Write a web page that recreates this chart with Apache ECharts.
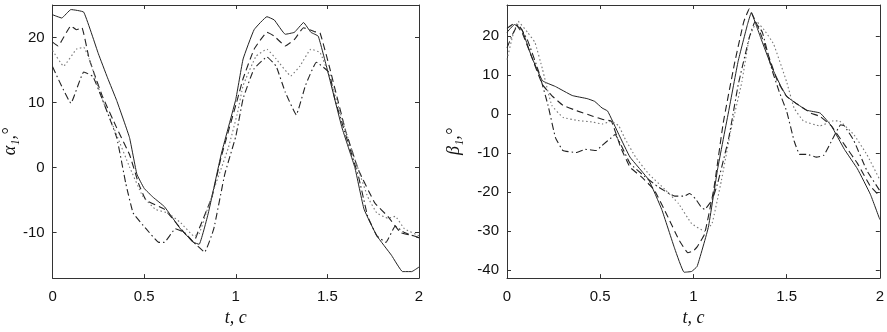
<!DOCTYPE html>
<html>
<head>
<meta charset="utf-8">
<script src="https://cdn.jsdelivr.net/npm/echarts@6/dist/echarts.min.js"></script>
<style>html,body{margin:0;padding:0;background:#fff}#c{width:887px;height:332px}</style>
</head>
<body>
<div id="c"></div>
<script>
// ---- data: left panel (alpha_1) ----
const xTicks = [0, 0.5, 1, 1.5, 2];
const alphaTicks = [-10, 0, 10, 20];
const betaTicks = [-40, -30, -20, -10, 0, 10, 20];

const aSolidT = [0, 0.05, 0.1, 0.17, 0.25, 0.3, 0.35, 0.42, 0.46, 0.5, 0.55, 0.61, 0.7, 0.77, 0.8, 0.85, 0.92, 1.0, 1.04, 1.1, 1.17, 1.21, 1.27, 1.32, 1.37, 1.41, 1.45, 1.5, 1.58, 1.65, 1.7, 1.77, 1.85, 1.91, 1.96, 2.0];
const aSolidV = [23.5, 23, 24.3, 23.9, 17.5, 13.8, 10.3, 4.6, -1, -3.2, -4.6, -6, -9.5, -11.5, -11.8, -7, 2, 10.5, 16.7, 21.2, 23.2, 22.7, 20.5, 20.8, 22.3, 20.8, 20.2, 15, 6.1, 0, -6.4, -10.5, -13.5, -16, -16, -15.3];

const aDashT = [0, 0.03, 0.1, 0.13, 0.16, 0.2, 0.27, 0.35, 0.42, 0.47, 0.51, 0.61, 0.7, 0.77, 0.8, 0.87, 0.92, 1.01, 1.04, 1.1, 1.17, 1.21, 1.27, 1.32, 1.37, 1.43, 1.46, 1.51, 1.6, 1.67, 1.76, 1.83, 1.9, 1.97, 2.0];
const aDashV = [19.3, 18.7, 21.8, 21.2, 21.5, 16.7, 11.1, 6.1, 2, -2.5, -5, -6.4, -9.4, -11.5, -9.4, -4.5, 1.6, 10.6, 13.7, 18.2, 20.8, 20.2, 18.7, 19.7, 21.5, 20.9, 20.7, 15.6, 5.6, -0.4, -5.5, -7.5, -10, -10.5, -10.8];

const aDotT = [0, 0.06, 0.13, 0.17, 0.2, 0.27, 0.35, 0.42, 0.49, 0.56, 0.63, 0.7, 0.77, 0.8, 0.88, 0.96, 1.01, 1.04, 1.11, 1.17, 1.22, 1.3, 1.35, 1.41, 1.46, 1.51, 1.6, 1.67, 1.72, 1.77, 1.83, 1.87, 1.92, 2.0];
const aDotV = [18, 15.6, 18.2, 18.5, 16.7, 10.6, 5, 0.1, -4.3, -6.4, -7, -8.5, -10.5, -10.2, -3.4, 3.1, 8.5, 12.6, 17.1, 18.2, 16.7, 14.1, 15.6, 18.2, 17.7, 14.1, 5.6, -0.4, -4.5, -7, -7.8, -7.5, -9.4, -10.5];

const aDashDotT = [0, 0.1, 0.17, 0.22, 0.27, 0.35, 0.4, 0.44, 0.51, 0.58, 0.61, 0.67, 0.72, 0.77, 0.83, 0.88, 0.94, 1.0, 1.04, 1.1, 1.17, 1.22, 1.27, 1.33, 1.38, 1.44, 1.51, 1.54, 1.6, 1.67, 1.72, 1.77, 1.82, 1.87, 1.92, 2.0];
const aDashDotV = [15.5, 9.9, 14.7, 14, 10.6, 4.6, -2.5, -7, -9.4, -11.5, -11.5, -9.4, -10, -11.5, -13, -9.4, -1, 4.8, 10.6, 15.2, 17, 15.6, 11.6, 8.1, 12.6, 16.2, 14.6, 10.6, 5, -1.4, -7.5, -10.5, -11.5, -9, -10, -10.8];

// ---- data: right panel (beta_1) ----
const bSolidT = [0, 0.04, 0.08, 0.13, 0.19, 0.26, 0.35, 0.43, 0.47, 0.51, 0.54, 0.6, 0.66, 0.76, 0.83, 0.9, 0.95, 0.99, 1.02, 1.08, 1.13, 1.19, 1.24, 1.29, 1.31, 1.36, 1.42, 1.47, 1.5, 1.55, 1.61, 1.68, 1.74, 1.81, 1.88, 1.95, 2.0];
const bSolidV = [21, 23, 21.7, 15, 8.6, 7.1, 4.8, 4, 3.3, 1.6, 0.8, -5.2, -11, -16.8, -24.4, -34.5, -40.5, -40.3, -39, -29, -14, 1, 13.6, 23, 26, 19.7, 12.1, 7.1, 4.6, 2.8, 1, 0.3, -3, -9, -14, -20.6, -27];

const bDashT = [0, 0.04, 0.08, 0.13, 0.19, 0.24, 0.3, 0.38, 0.46, 0.51, 0.56, 0.61, 0.66, 0.72, 0.79, 0.86, 0.92, 0.97, 1.0, 1.02, 1.06, 1.11, 1.16, 1.22, 1.27, 1.3, 1.35, 1.4, 1.45, 1.5, 1.55, 1.63, 1.68, 1.74, 1.81, 1.88, 1.95, 2.0];
const bDashV = [22, 23.3, 21, 15, 7.6, 4.8, 2.3, 0.8, -0.5, -1.3, -1.8, -8.5, -13.6, -16, -19.4, -26, -32, -35.5, -35, -34, -30.7, -19, -2.2, 12.9, 23.7, 27, 22, 15.4, 8.6, 4.6, 2.8, 0.3, -0.6, -3, -7.8, -12.6, -18.5, -21];

const bDotT = [0, 0.03, 0.06, 0.11, 0.15, 0.19, 0.24, 0.3, 0.38, 0.46, 0.51, 0.56, 0.6, 0.63, 0.69, 0.76, 0.85, 0.92, 0.99, 1.06, 1.1, 1.15, 1.2, 1.26, 1.3, 1.34, 1.38, 1.43, 1.5, 1.54, 1.59, 1.68, 1.75, 1.78, 1.86, 1.93, 2.0];
const bDotV = [14, 20, 23.8, 21, 18.4, 11.6, 2.3, -0.8, -1.6, -2, -2.5, -1.8, -3, -6, -11, -15.3, -19.4, -22.9, -28, -30, -28, -17, -4.3, 8.3, 19.7, 23.7, 21.6, 18, 8.3, 1.6, -1.7, -3, -1.7, -1.7, -5.2, -10.3, -16.8];

const bDashDotT = [0, 0.03, 0.06, 0.11, 0.17, 0.22, 0.26, 0.3, 0.37, 0.42, 0.48, 0.51, 0.56, 0.58, 0.61, 0.66, 0.74, 0.81, 0.9, 0.95, 0.98, 1.01, 1.04, 1.06, 1.1, 1.13, 1.19, 1.24, 1.3, 1.33, 1.37, 1.42, 1.46, 1.5, 1.54, 1.57, 1.61, 1.66, 1.7, 1.75, 1.79, 1.81, 1.86, 1.93, 2.0];
const bDashDotV = [17, 20.5, 23, 19, 10.9, 2.3, -6, -9.3, -9.8, -9, -9.3, -8, -6, -5.2, -7.7, -12.6, -16, -18.6, -21, -21, -20.3, -21.6, -23.7, -24.4, -22, -17.7, -6, 7.5, 19.7, 23.7, 21, 11.6, 5.8, 0.8, -6.8, -10.3, -10.3, -11, -10.5, -6, -2.7, -3, -6.7, -14.4, -19.6];

// ---- build ----
const pairs = (t, v) => t.map((x, i) => [x, v[i]]);
const FRAME = '#333';
const LABEL_FONT = {fontFamily: 'Liberation Sans, Arial, sans-serif', fontSize: 15, color: '#111'};
const NAME_FONT = {fontFamily: 'Liberation Serif, DejaVu Serif, serif', fontStyle: 'italic', fontSize: 18, color: '#111'};

function xAxes(grid) {
  const base = {
    type: 'value', gridIndex: grid, min: 0, max: 2,
    axisLine: {show: true, onZero: false, lineStyle: {color: FRAME, width: 1}},
    axisTick: {show: true, inside: true, length: 4, customValues: xTicks, lineStyle: {color: FRAME}},
    splitLine: {show: false}
  };
  return [
    Object.assign({}, base, {
      position: 'bottom',
      axisLabel: Object.assign({show: true, margin: 11, customValues: xTicks, formatter: v => String(v)}, LABEL_FONT),
      name: 't, c', nameLocation: 'middle', nameGap: 27, nameTextStyle: NAME_FONT
    }),
    Object.assign({}, base, {position: 'top', axisLabel: {show: false}})
  ];
}
function yAxes(grid, min, max, ticks, name, gap) {
  const base = {
    type: 'value', gridIndex: grid, min: min, max: max,
    axisLine: {show: true, onZero: false, lineStyle: {color: FRAME, width: 1}},
    axisTick: {show: true, inside: true, length: 4, customValues: ticks, lineStyle: {color: FRAME}},
    splitLine: {show: false}
  };
  return [
    Object.assign({}, base, {
      position: 'left',
      axisLabel: Object.assign({show: true, margin: 8, customValues: ticks, formatter: v => String(v)}, LABEL_FONT),
      name: name, nameLocation: 'middle', nameRotate: 90, nameGap: gap, nameTextStyle: NAME_FONT
    }),
    Object.assign({}, base, {position: 'right', axisLabel: {show: false}})
  ];
}

const STYLES = {
  solid:   {color: '#222', width: 1, type: 'solid'},
  dashed:  {color: '#222', width: 1.1, type: [7, 4]},
  dotted:  {color: '#777', width: 1.1, type: [1.5, 2.5]},
  dashdot: {color: '#222', width: 1.1, type: [7, 3, 1.5, 3]}
};
function line(xi, yi, t, v, st) {
  return {
    type: 'line', xAxisIndex: xi, yAxisIndex: yi, data: pairs(t, v),
    showSymbol: false, smooth: 0.1, lineStyle: STYLES[st], silent: true, animation: false, z: 3
  };
}

const chart = echarts.init(document.getElementById('c'), null, {renderer: 'canvas'});
chart.setOption({
  backgroundColor: '#fff',
  animation: false,
  grid: [
    {left: 47, right: 468, top: 5, bottom: 49},
    {left: 507, right: 7, top: 5, bottom: 49}
  ],
  xAxis: [...xAxes(0), ...xAxes(1)],
  yAxis: [...yAxes(0, -17, 25, alphaTicks, 'α₁,°', 24), ...yAxes(1, -42, 28, betaTicks, 'β₁,°', 44)],
  series: [
    line(0, 0, aSolidT, aSolidV, 'solid'),
    line(0, 0, aDashT, aDashV, 'dashed'),
    line(0, 0, aDotT, aDotV, 'dotted'),
    line(0, 0, aDashDotT, aDashDotV, 'dashdot'),
    line(2, 2, bSolidT, bSolidV, 'solid'),
    line(2, 2, bDashT, bDashV, 'dashed'),
    line(2, 2, bDotT, bDotV, 'dotted'),
    line(2, 2, bDashDotT, bDashDotV, 'dashdot')
  ]
});
</script>
</body>
</html>
